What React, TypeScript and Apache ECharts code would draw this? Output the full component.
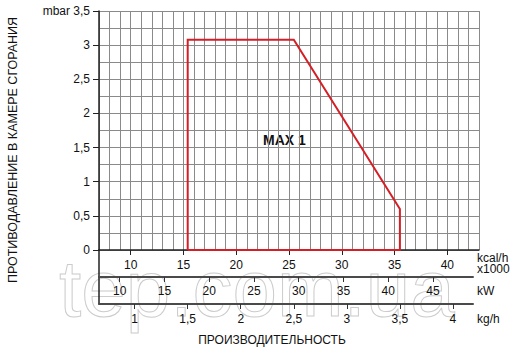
import React, { useEffect, useRef } from "react";
import * as echarts from "echarts";

// Chart data
const flowKgH = [1.5, 1.5, 2.5, 3.5, 3.5, 1.5];
const pressureMbar = [0, 3.08, 3.08, 0.6, 0, 0];
const seriesName = "MAX 1";

// Axis ticks
const kcalTicks = [10, 15, 20, 25, 30, 35, 40];
const kwTicks = [10, 15, 20, 25, 30, 35, 40, 45];
const kghTicks = [1, 1.5, 2, 2.5, 3, 3.5, 4];

const yTitle = "ПРОТИВОДАВЛЕНИЕ В КАМЕРЕ СГОРАНИЯ";
const xTitle = "ПРОИЗВОДИТЕЛЬНОСТЬ";

const FONT = "'Liberation Sans', Arial, sans-serif";
const comma = (v: number) => String(v).replace(".", ",");

export default function App() {
  const ref = useRef<HTMLDivElement>(null);
  useEffect(() => {
    if (!ref.current) return;
    const chart = echarts.init(ref.current, null, { renderer: "svg" });
    const gridLine = { color: "#8a8a8a", width: 1 };
    const axisDark = { color: "#222", width: 1.5 };
    const subAxis = { color: "#4a4a4a", width: 2 };
    const labelStyle = { color: "#111", fontSize: 12, fontFamily: FONT };

    const L = 99;
    const W = 380;
    const subW = 374;

    chart.setOption({
      animation: false,
      backgroundColor: "#fff",
      grid: [
        { left: L, top: 11, width: W, height: 239 },
        { left: L, top: 250, width: subW, height: 27 },
        { left: L, top: 277, width: subW, height: 27 },
      ],
      xAxis: [
        // 0: kcal/h grid lines
        {
          gridIndex: 0,
          type: "value",
          min: 7,
          max: 43,
          interval: 1,
          axisLine: { show: false },
          axisTick: { show: false },
          axisLabel: { show: false },
          splitLine: { show: true, lineStyle: gridLine },
        },
        // 1: kcal/h labels
        {
          gridIndex: 0,
          type: "value",
          min: 7,
          max: 43,
          position: "bottom",
          axisLine: { show: true, onZero: false, lineStyle: axisDark },
          axisTick: { show: true, customValues: kcalTicks, length: 5, lineStyle: { color: "#222", width: 1 } },
          axisLabel: { customValues: kcalTicks, margin: 9, ...labelStyle },
          splitLine: { show: false },
        },
        // 2: kg/h scale for the curve
        {
          gridIndex: 0,
          type: "value",
          min: 0.664,
          max: 0.664 + W / 106.1,
          show: false,
        },
        // 3: kW
        {
          gridIndex: 1,
          type: "value",
          min: 7.69,
          max: 7.69 + subW / 8.95,
          position: "bottom",
          axisLine: { show: true, onZero: false, lineStyle: subAxis },
          axisTick: { show: true, customValues: kwTicks, length: 5, lineStyle: { color: "#333", width: 1 } },
          axisLabel: { customValues: kwTicks, margin: 8, ...labelStyle },
          splitLine: { show: false },
        },
        // 4: kg/h
        {
          gridIndex: 2,
          type: "value",
          min: 0.664,
          max: 0.664 + subW / 106.1,
          position: "bottom",
          axisLine: { show: true, onZero: false, lineStyle: subAxis },
          axisTick: { show: true, customValues: kghTicks, length: 5, lineStyle: { color: "#333", width: 1 } },
          axisLabel: { customValues: kghTicks, margin: 9, formatter: (v: number) => comma(v), ...labelStyle },
          splitLine: { show: false },
        },
      ],
      yAxis: [
        {
          gridIndex: 0,
          type: "value",
          min: 0,
          max: 3.5,
          interval: 0.5,
          axisLine: { show: true, lineStyle: axisDark },
          axisTick: { show: true, length: 6, lineStyle: { color: "#222", width: 1 } },
          axisLabel: {
            margin: 9,
            ...labelStyle,
            formatter: (v: number) => (v === 3.5 ? "mbar 3,5" : comma(v)),
          },
          splitLine: { show: false },
        },
        {
          gridIndex: 0,
          type: "value",
          min: 0,
          max: 3.5,
          interval: 0.25,
          axisLine: { show: false },
          axisTick: { show: false },
          axisLabel: { show: false },
          splitLine: { show: true, lineStyle: gridLine },
        },
        {
          gridIndex: 1,
          type: "value",
          min: 0,
          max: 1,
          axisLine: { show: true, lineStyle: axisDark },
          axisTick: { show: false },
          axisLabel: { show: false },
          splitLine: { show: false },
        },
        {
          gridIndex: 2,
          type: "value",
          min: 0,
          max: 1,
          axisLine: { show: true, lineStyle: axisDark },
          axisTick: { show: false },
          axisLabel: { show: false },
          splitLine: { show: false },
        },
      ],
      series: [
        {
          name: seriesName,
          type: "line",
          xAxisIndex: 2,
          yAxisIndex: 0,
          data: flowKgH.map((x, i) => [x, pressureMbar[i]]),
          showSymbol: false,
          symbol: "none",
          lineStyle: { color: "#d41f26", width: 2, join: "miter" },
          z: 5,
        },
      ],
      graphic: [
        {
          type: "text",
          x: 59,
          y: 288,
          z: -1,
          silent: true,
          style: {
            text: "tep.com.ua",
            fontSize: 80,
            fontFamily: FONT,
            fill: "rgba(255,255,255,0)",
            stroke: "#cccccc",
            lineWidth: 1,
            align: "left",
            verticalAlign: "middle",
          },
        },
        {
          type: "text",
          x: 263,
          y: 140,
          style: { text: seriesName, fontSize: 14, fontWeight: "bold", fontFamily: FONT, fill: "#111", align: "left", verticalAlign: "middle" },
        },
        {
          type: "text",
          x: 13,
          y: 150,
          rotation: Math.PI / 2,
          style: { text: yTitle, fontSize: 12.5, fontFamily: FONT, fill: "#111", align: "center", verticalAlign: "middle" },
        },
        {
          type: "text",
          x: 272,
          y: 340,
          style: { text: xTitle, fontSize: 12, fontFamily: FONT, fill: "#111", align: "center", verticalAlign: "middle" },
        },
        {
          type: "text",
          x: 477,
          y: 258,
          style: { text: "kcal/h", fontSize: 12, fontFamily: FONT, fill: "#111", align: "left", verticalAlign: "middle" },
        },
        {
          type: "text",
          x: 477,
          y: 269,
          style: { text: "x1000", fontSize: 12, fontFamily: FONT, fill: "#111", align: "left", verticalAlign: "middle" },
        },
        {
          type: "text",
          x: 477,
          y: 291,
          style: { text: "kW", fontSize: 12, fontFamily: FONT, fill: "#111", align: "left", verticalAlign: "middle" },
        },
        {
          type: "text",
          x: 477,
          y: 319,
          style: { text: "kg/h", fontSize: 12, fontFamily: FONT, fill: "#111", align: "left", verticalAlign: "middle" },
        },
      ],
    });
    return () => chart.dispose();
  }, []);
  return (
    <div
      ref={ref}
      style={{ position: "absolute", left: 0, top: 0, width: 518, height: 352 }}
    />
  );
}
